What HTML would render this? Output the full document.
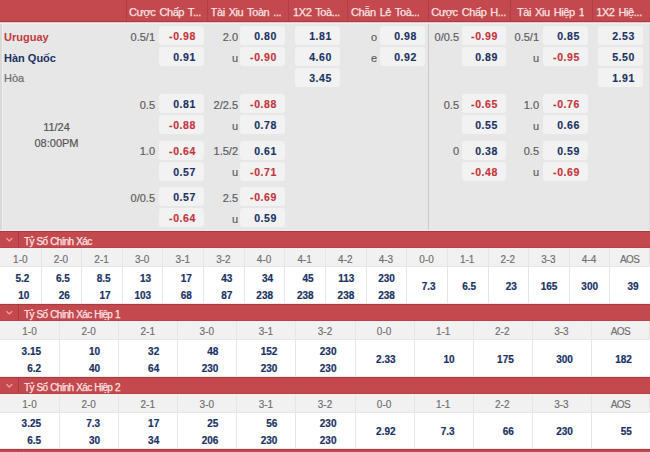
<!DOCTYPE html><html><head><meta charset="utf-8"><title>Odds</title><style>
*{margin:0;padding:0;box-sizing:border-box}
html,body{width:650px;height:452px;overflow:hidden;background:#e7e7e7;font-family:"Liberation Sans", Arial, sans-serif}
.ab{position:absolute;white-space:nowrap}
.hd{position:absolute;top:3px;height:18px;line-height:19px;color:#fbe2e2;font-size:11px;letter-spacing:-0.4px;word-spacing:1.3px;overflow:hidden;white-space:nowrap;-webkit-text-stroke:0.25px #fbe2e2}
.vd{position:absolute;width:1px}
.box{position:absolute;height:19px;width:45px;background:#f2f2f2;border-radius:3px;text-align:right;padding-right:8px;padding-top:1px;font-weight:bold;font-size:10.5px;line-height:19px;letter-spacing:0.6px}
.r{color:#c4343b;-webkit-text-stroke:0.15px #c4343b} .b{color:#1a3264;-webkit-text-stroke:0.15px #1a3264}
.lb{position:absolute;height:19px;line-height:19px;padding-top:1.5px;font-size:11px;color:#5e5e5e;-webkit-text-stroke:0.2px #5e5e5e;text-align:right;width:40px}
.bar{position:absolute;left:0;width:650px;height:17px;background:#c4494e}
.bt{position:absolute;color:#fbe3e3;-webkit-text-stroke:0.25px #fbe3e3;font-size:10px;line-height:17px;left:24px;top:0;padding-top:1.5px;letter-spacing:-0.7px;word-spacing:0.8px}
.sh{position:absolute;left:0;width:650px;background:#f1f1f1}
.sb{position:absolute;left:0;width:650px;background:#fff}
.sl{position:absolute;text-align:center;color:#6e6e6e;font-size:10px;-webkit-text-stroke:0.15px #6e6e6e}
.sv{position:absolute;text-align:right;color:#1a3264;font-weight:bold;font-size:10px;-webkit-text-stroke:0.2px #1a3264}

</style></head><body>
<div class="ab" style="left:0;top:0;width:650px;height:21px;background:#c4494e"></div>
<div class="ab" style="left:0;top:21px;width:650px;height:1px;background:#a63c42"></div>
<div class="ab" style="left:0;top:22px;width:650px;height:1px;background:#e9c9cb"></div>
<div class="ab" style="left:0;top:23px;width:650px;height:1px;background:#f9e8e9"></div>
<div class="hd" style="left:129.0px">Cược Chấp T...</div>
<div class="hd" style="left:210.6px">Tài Xiu Toàn ...</div>
<div class="hd" style="left:293.1px">1X2 Toà...</div>
<div class="hd" style="left:351.0px">Chẵn Lẻ Toà...</div>
<div class="hd" style="left:431.3px">Cược Chấp H...</div>
<div class="hd" style="left:517.0px">Tài Xiu Hiệp 1</div>
<div class="hd" style="left:596.2px">1X2 Hiệ...</div>
<div class="vd" style="left:126px;top:0;height:21px;background:#b03e45"></div>
<div class="vd" style="left:207px;top:0;height:21px;background:#b03e45"></div>
<div class="vd" style="left:288px;top:0;height:21px;background:#b03e45"></div>
<div class="vd" style="left:347px;top:0;height:21px;background:#b03e45"></div>
<div class="vd" style="left:428px;top:0;height:21px;background:#b03e45"></div>
<div class="vd" style="left:510px;top:0;height:21px;background:#b03e45"></div>
<div class="vd" style="left:592px;top:0;height:21px;background:#b03e45"></div>
<div class="ab" style="left:0;top:24px;width:2px;height:206px;background:#d9d9d9"></div>
<div class="vd" style="left:2px;top:24px;height:206px;background:#efefef"></div>
<div class="vd" style="left:649px;top:24px;height:206px;background:#d9d9d9"></div>
<div class="vd" style="left:428px;top:24px;height:207px;background:#cacaca"></div>
<div class="lb" style="left:115px;top:26px">0.5/1</div>
<div class="box r" style="left:159px;top:26px;width:45px">-0.98</div>
<div class="lb" style="left:198px;top:26px">2.0</div>
<div class="box b" style="left:240px;top:26px;width:45px">0.80</div>
<div class="box b" style="left:295px;top:26px;width:45px">1.81</div>
<div class="lb" style="left:337px;top:26px">o</div>
<div class="box b" style="left:380px;top:26px;width:45px">0.98</div>
<div class="lb" style="left:419px;top:26px">0/0.5</div>
<div class="box r" style="left:462px;top:26px;width:44px">-0.99</div>
<div class="lb" style="left:499px;top:26px">0.5/1</div>
<div class="box b" style="left:543px;top:26px;width:45px">0.85</div>
<div class="box b" style="left:598px;top:26px;width:45px">2.53</div>
<div class="box b" style="left:159px;top:47px;width:45px">0.91</div>
<div class="lb" style="left:198px;top:47px">u</div>
<div class="box r" style="left:240px;top:47px;width:45px">-0.90</div>
<div class="box b" style="left:295px;top:47px;width:45px">4.60</div>
<div class="lb" style="left:337px;top:47px">e</div>
<div class="box b" style="left:380px;top:47px;width:45px">0.92</div>
<div class="box b" style="left:462px;top:47px;width:44px">0.89</div>
<div class="lb" style="left:499px;top:47px">u</div>
<div class="box r" style="left:543px;top:47px;width:45px">-0.95</div>
<div class="box b" style="left:598px;top:47px;width:45px">5.50</div>
<div class="box b" style="left:295px;top:68px;width:45px">3.45</div>
<div class="box b" style="left:598px;top:68px;width:45px">1.91</div>
<div class="lb" style="left:115px;top:94px">0.5</div>
<div class="box b" style="left:159px;top:94px;width:45px">0.81</div>
<div class="lb" style="left:198px;top:94px">2/2.5</div>
<div class="box r" style="left:240px;top:94px;width:45px">-0.88</div>
<div class="lb" style="left:419px;top:94px">0.5</div>
<div class="box r" style="left:462px;top:94px;width:44px">-0.65</div>
<div class="lb" style="left:499px;top:94px">1.0</div>
<div class="box r" style="left:543px;top:94px;width:45px">-0.76</div>
<div class="box r" style="left:159px;top:115px;width:45px">-0.88</div>
<div class="lb" style="left:198px;top:115px">u</div>
<div class="box b" style="left:240px;top:115px;width:45px">0.78</div>
<div class="box b" style="left:462px;top:115px;width:44px">0.55</div>
<div class="lb" style="left:499px;top:115px">u</div>
<div class="box b" style="left:543px;top:115px;width:45px">0.66</div>
<div class="lb" style="left:115px;top:140.5px">1.0</div>
<div class="box r" style="left:159px;top:140.5px;width:45px">-0.64</div>
<div class="lb" style="left:198px;top:140.5px">1.5/2</div>
<div class="box b" style="left:240px;top:140.5px;width:45px">0.61</div>
<div class="lb" style="left:419px;top:140.5px">0</div>
<div class="box b" style="left:462px;top:140.5px;width:44px">0.38</div>
<div class="lb" style="left:499px;top:140.5px">0.5</div>
<div class="box b" style="left:543px;top:140.5px;width:45px">0.59</div>
<div class="box b" style="left:159px;top:161.5px;width:45px">0.57</div>
<div class="lb" style="left:198px;top:161.5px">u</div>
<div class="box r" style="left:240px;top:161.5px;width:45px">-0.71</div>
<div class="box r" style="left:462px;top:161.5px;width:44px">-0.48</div>
<div class="lb" style="left:499px;top:161.5px">u</div>
<div class="box r" style="left:543px;top:161.5px;width:45px">-0.69</div>
<div class="lb" style="left:115px;top:187px">0/0.5</div>
<div class="box b" style="left:159px;top:187px;width:45px">0.57</div>
<div class="lb" style="left:198px;top:187px">2.5</div>
<div class="box r" style="left:240px;top:187px;width:45px">-0.69</div>
<div class="box r" style="left:159px;top:208px;width:45px">-0.64</div>
<div class="lb" style="left:198px;top:208px">u</div>
<div class="box b" style="left:240px;top:208px;width:45px">0.59</div>
<div class="ab" style="left:4px;top:28px;line-height:19px;font-size:11px;font-weight:bold;color:#c23840">Uruguay</div>
<div class="ab" style="left:4px;top:48.5px;line-height:19px;font-size:11px;font-weight:bold;color:#1a3264">Hàn Quốc</div>
<div class="ab" style="left:4px;top:69px;line-height:19px;font-size:11px;color:#6a6a6a;-webkit-text-stroke:0.2px #6a6a6a">Hòa</div>
<div class="ab" style="left:0;width:113px;top:119px;line-height:16px;font-size:11px;color:#555;-webkit-text-stroke:0.2px #555;text-align:center">11/24<br>08:00PM</div>
<div class="ab" style="left:0;top:230px;width:650px;height:1px;background:#fae6e7"></div>
<div class="bar" style="top:231px"></div>
<div class="ab" style="left:0;top:231px;width:650px;height:1px;background:#a63c42"></div>
<div class="vd" style="left:18px;top:231px;height:17px;background:#a63c42"></div>
<svg class="ab" style="left:5px;top:237px" width="9" height="6" viewBox="0 0 9 6"><polyline points="1.4,1.2 4.3,3.9 7.2,1.2" fill="none" stroke="#f4a3a8" stroke-width="1.3"/></svg>
<div class="ab" style="left:0;top:247px;width:650px;height:1px;background:#b3444a"></div>
<div class="bt" style="top:231px">Tỷ Số Chính Xác</div>
<div class="sh" style="top:248px;height:18px"></div>
<div class="ab" style="left:0;top:248px;width:650px;height:1px;background:#f8ecec"></div>
<div class="vd" style="left:649px;top:248px;height:55px;background:#e2e2e2"></div>
<div class="ab" style="left:0;top:266px;width:650px;height:1px;background:#e6e6e6"></div>
<div class="sb" style="top:267px;height:36px"></div>
<div class="sl" style="left:0.00px;width:40.62px;top:250.5px;line-height:18px">1-0</div>
<div class="sl" style="left:40.62px;width:40.62px;top:250.5px;line-height:18px">2-0</div>
<div class="vd" style="left:41px;top:248px;height:55px;background:#e6e6e6"></div>
<div class="sl" style="left:81.25px;width:40.62px;top:250.5px;line-height:18px">2-1</div>
<div class="vd" style="left:81px;top:248px;height:55px;background:#e6e6e6"></div>
<div class="sl" style="left:121.88px;width:40.62px;top:250.5px;line-height:18px">3-0</div>
<div class="vd" style="left:122px;top:248px;height:55px;background:#e6e6e6"></div>
<div class="sl" style="left:162.50px;width:40.62px;top:250.5px;line-height:18px">3-1</div>
<div class="vd" style="left:162px;top:248px;height:55px;background:#e6e6e6"></div>
<div class="sl" style="left:203.12px;width:40.62px;top:250.5px;line-height:18px">3-2</div>
<div class="vd" style="left:203px;top:248px;height:55px;background:#e6e6e6"></div>
<div class="sl" style="left:243.75px;width:40.62px;top:250.5px;line-height:18px">4-0</div>
<div class="vd" style="left:244px;top:248px;height:55px;background:#e6e6e6"></div>
<div class="sl" style="left:284.38px;width:40.62px;top:250.5px;line-height:18px">4-1</div>
<div class="vd" style="left:284px;top:248px;height:55px;background:#e6e6e6"></div>
<div class="sl" style="left:325.00px;width:40.62px;top:250.5px;line-height:18px">4-2</div>
<div class="vd" style="left:325px;top:248px;height:55px;background:#e6e6e6"></div>
<div class="sl" style="left:365.62px;width:40.62px;top:250.5px;line-height:18px">4-3</div>
<div class="vd" style="left:366px;top:248px;height:55px;background:#e6e6e6"></div>
<div class="sl" style="left:406.25px;width:40.62px;top:250.5px;line-height:18px">0-0</div>
<div class="vd" style="left:406px;top:248px;height:55px;background:#e6e6e6"></div>
<div class="sl" style="left:446.88px;width:40.62px;top:250.5px;line-height:18px">1-1</div>
<div class="vd" style="left:447px;top:248px;height:55px;background:#e6e6e6"></div>
<div class="sl" style="left:487.50px;width:40.62px;top:250.5px;line-height:18px">2-2</div>
<div class="vd" style="left:488px;top:248px;height:55px;background:#e6e6e6"></div>
<div class="sl" style="left:528.12px;width:40.62px;top:250.5px;line-height:18px">3-3</div>
<div class="vd" style="left:528px;top:248px;height:55px;background:#e6e6e6"></div>
<div class="sl" style="left:568.75px;width:40.62px;top:250.5px;line-height:18px">4-4</div>
<div class="vd" style="left:569px;top:248px;height:55px;background:#e6e6e6"></div>
<div class="sl" style="left:609.38px;width:40.62px;top:250.5px;line-height:18px;letter-spacing:-0.6px">AOS</div>
<div class="vd" style="left:609px;top:248px;height:55px;background:#e6e6e6"></div>
<div class="sv" style="left:-10.69px;width:40px;top:270px;line-height:17px">5.2<br>10</div>
<div class="sv" style="left:29.94px;width:40px;top:270px;line-height:17px">6.5<br>26</div>
<div class="sv" style="left:70.56px;width:40px;top:270px;line-height:17px">8.5<br>17</div>
<div class="sv" style="left:111.19px;width:40px;top:270px;line-height:17px">13<br>103</div>
<div class="sv" style="left:151.81px;width:40px;top:270px;line-height:17px">17<br>68</div>
<div class="sv" style="left:192.44px;width:40px;top:270px;line-height:17px">43<br>87</div>
<div class="sv" style="left:233.06px;width:40px;top:270px;line-height:17px">34<br>238</div>
<div class="sv" style="left:273.69px;width:40px;top:270px;line-height:17px">45<br>238</div>
<div class="sv" style="left:314.31px;width:40px;top:270px;line-height:17px">113<br>238</div>
<div class="sv" style="left:354.94px;width:40px;top:270px;line-height:17px">230<br>238</div>
<div class="sv" style="left:395.56px;width:40px;top:278px;line-height:17px">7.3</div>
<div class="sv" style="left:436.19px;width:40px;top:278px;line-height:17px">6.5</div>
<div class="sv" style="left:476.81px;width:40px;top:278px;line-height:17px">23</div>
<div class="sv" style="left:517.44px;width:40px;top:278px;line-height:17px">165</div>
<div class="sv" style="left:558.06px;width:40px;top:278px;line-height:17px">300</div>
<div class="sv" style="left:598.69px;width:40px;top:278px;line-height:17px">39</div>
<div class="ab" style="left:0;top:303px;width:650px;height:1px;background:#fae6e7"></div>
<div class="bar" style="top:304px"></div>
<div class="ab" style="left:0;top:304px;width:650px;height:1px;background:#a63c42"></div>
<div class="vd" style="left:18px;top:304px;height:17px;background:#a63c42"></div>
<svg class="ab" style="left:5px;top:310px" width="9" height="6" viewBox="0 0 9 6"><polyline points="1.4,1.2 4.3,3.9 7.2,1.2" fill="none" stroke="#f4a3a8" stroke-width="1.3"/></svg>
<div class="ab" style="left:0;top:320px;width:650px;height:1px;background:#b3444a"></div>
<div class="bt" style="top:304px">Tỷ Số Chính Xác Hiệp 1</div>
<div class="sh" style="top:321px;height:18px"></div>
<div class="ab" style="left:0;top:321px;width:650px;height:1px;background:#f8ecec"></div>
<div class="vd" style="left:649px;top:321px;height:55px;background:#e2e2e2"></div>
<div class="ab" style="left:0;top:339px;width:650px;height:1px;background:#e6e6e6"></div>
<div class="sb" style="top:340px;height:36px"></div>
<div class="sl" style="left:0.00px;width:59.09px;top:323.0px;line-height:18px">1-0</div>
<div class="sl" style="left:59.09px;width:59.09px;top:323.0px;line-height:18px">2-0</div>
<div class="vd" style="left:59px;top:321px;height:55px;background:#e6e6e6"></div>
<div class="sl" style="left:118.18px;width:59.09px;top:323.0px;line-height:18px">2-1</div>
<div class="vd" style="left:118px;top:321px;height:55px;background:#e6e6e6"></div>
<div class="sl" style="left:177.27px;width:59.09px;top:323.0px;line-height:18px">3-0</div>
<div class="vd" style="left:177px;top:321px;height:55px;background:#e6e6e6"></div>
<div class="sl" style="left:236.36px;width:59.09px;top:323.0px;line-height:18px">3-1</div>
<div class="vd" style="left:236px;top:321px;height:55px;background:#e6e6e6"></div>
<div class="sl" style="left:295.45px;width:59.09px;top:323.0px;line-height:18px">3-2</div>
<div class="vd" style="left:295px;top:321px;height:55px;background:#e6e6e6"></div>
<div class="sl" style="left:354.55px;width:59.09px;top:323.0px;line-height:18px">0-0</div>
<div class="vd" style="left:355px;top:321px;height:55px;background:#e6e6e6"></div>
<div class="sl" style="left:413.64px;width:59.09px;top:323.0px;line-height:18px">1-1</div>
<div class="vd" style="left:414px;top:321px;height:55px;background:#e6e6e6"></div>
<div class="sl" style="left:472.73px;width:59.09px;top:323.0px;line-height:18px">2-2</div>
<div class="vd" style="left:473px;top:321px;height:55px;background:#e6e6e6"></div>
<div class="sl" style="left:531.82px;width:59.09px;top:323.0px;line-height:18px">3-3</div>
<div class="vd" style="left:532px;top:321px;height:55px;background:#e6e6e6"></div>
<div class="sl" style="left:590.91px;width:59.09px;top:323.0px;line-height:18px;letter-spacing:-0.6px">AOS</div>
<div class="vd" style="left:591px;top:321px;height:55px;background:#e6e6e6"></div>
<div class="sv" style="left:1.05px;width:40px;top:342.5px;line-height:17px">3.15<br>6.2</div>
<div class="sv" style="left:60.14px;width:40px;top:342.5px;line-height:17px">10<br>40</div>
<div class="sv" style="left:119.23px;width:40px;top:342.5px;line-height:17px">32<br>64</div>
<div class="sv" style="left:178.32px;width:40px;top:342.5px;line-height:17px">48<br>230</div>
<div class="sv" style="left:237.41px;width:40px;top:342.5px;line-height:17px">152<br>230</div>
<div class="sv" style="left:296.50px;width:40px;top:342.5px;line-height:17px">230<br>230</div>
<div class="sv" style="left:355.59px;width:40px;top:350.5px;line-height:17px">2.33</div>
<div class="sv" style="left:414.68px;width:40px;top:350.5px;line-height:17px">10</div>
<div class="sv" style="left:473.77px;width:40px;top:350.5px;line-height:17px">175</div>
<div class="sv" style="left:532.86px;width:40px;top:350.5px;line-height:17px">300</div>
<div class="sv" style="left:591.95px;width:40px;top:350.5px;line-height:17px">182</div>
<div class="ab" style="left:0;top:376px;width:650px;height:1px;background:#fae6e7"></div>
<div class="bar" style="top:377px"></div>
<div class="ab" style="left:0;top:377px;width:650px;height:1px;background:#a63c42"></div>
<div class="vd" style="left:18px;top:377px;height:17px;background:#a63c42"></div>
<svg class="ab" style="left:5px;top:383px" width="9" height="6" viewBox="0 0 9 6"><polyline points="1.4,1.2 4.3,3.9 7.2,1.2" fill="none" stroke="#f4a3a8" stroke-width="1.3"/></svg>
<div class="ab" style="left:0;top:393px;width:650px;height:1px;background:#b3444a"></div>
<div class="bt" style="top:377px">Tỷ Số Chính Xác Hiệp 2</div>
<div class="sh" style="top:394px;height:18px"></div>
<div class="ab" style="left:0;top:394px;width:650px;height:1px;background:#f8ecec"></div>
<div class="vd" style="left:649px;top:394px;height:55px;background:#e2e2e2"></div>
<div class="ab" style="left:0;top:412px;width:650px;height:1px;background:#e6e6e6"></div>
<div class="sb" style="top:413px;height:36px"></div>
<div class="sl" style="left:0.00px;width:59.09px;top:395.5px;line-height:18px">1-0</div>
<div class="sl" style="left:59.09px;width:59.09px;top:395.5px;line-height:18px">2-0</div>
<div class="vd" style="left:59px;top:394px;height:55px;background:#e6e6e6"></div>
<div class="sl" style="left:118.18px;width:59.09px;top:395.5px;line-height:18px">2-1</div>
<div class="vd" style="left:118px;top:394px;height:55px;background:#e6e6e6"></div>
<div class="sl" style="left:177.27px;width:59.09px;top:395.5px;line-height:18px">3-0</div>
<div class="vd" style="left:177px;top:394px;height:55px;background:#e6e6e6"></div>
<div class="sl" style="left:236.36px;width:59.09px;top:395.5px;line-height:18px">3-1</div>
<div class="vd" style="left:236px;top:394px;height:55px;background:#e6e6e6"></div>
<div class="sl" style="left:295.45px;width:59.09px;top:395.5px;line-height:18px">3-2</div>
<div class="vd" style="left:295px;top:394px;height:55px;background:#e6e6e6"></div>
<div class="sl" style="left:354.55px;width:59.09px;top:395.5px;line-height:18px">0-0</div>
<div class="vd" style="left:355px;top:394px;height:55px;background:#e6e6e6"></div>
<div class="sl" style="left:413.64px;width:59.09px;top:395.5px;line-height:18px">1-1</div>
<div class="vd" style="left:414px;top:394px;height:55px;background:#e6e6e6"></div>
<div class="sl" style="left:472.73px;width:59.09px;top:395.5px;line-height:18px">2-2</div>
<div class="vd" style="left:473px;top:394px;height:55px;background:#e6e6e6"></div>
<div class="sl" style="left:531.82px;width:59.09px;top:395.5px;line-height:18px">3-3</div>
<div class="vd" style="left:532px;top:394px;height:55px;background:#e6e6e6"></div>
<div class="sl" style="left:590.91px;width:59.09px;top:395.5px;line-height:18px;letter-spacing:-0.6px">AOS</div>
<div class="vd" style="left:591px;top:394px;height:55px;background:#e6e6e6"></div>
<div class="sv" style="left:1.05px;width:40px;top:415px;line-height:17px">3.25<br>6.5</div>
<div class="sv" style="left:60.14px;width:40px;top:415px;line-height:17px">7.3<br>30</div>
<div class="sv" style="left:119.23px;width:40px;top:415px;line-height:17px">17<br>34</div>
<div class="sv" style="left:178.32px;width:40px;top:415px;line-height:17px">25<br>206</div>
<div class="sv" style="left:237.41px;width:40px;top:415px;line-height:17px">56<br>230</div>
<div class="sv" style="left:296.50px;width:40px;top:415px;line-height:17px">230<br>230</div>
<div class="sv" style="left:355.59px;width:40px;top:423px;line-height:17px">2.92</div>
<div class="sv" style="left:414.68px;width:40px;top:423px;line-height:17px">7.3</div>
<div class="sv" style="left:473.77px;width:40px;top:423px;line-height:17px">66</div>
<div class="sv" style="left:532.86px;width:40px;top:423px;line-height:17px">230</div>
<div class="sv" style="left:591.95px;width:40px;top:423px;line-height:17px">55</div>
<div class="ab" style="left:0;top:448px;width:650px;height:1px;background:#fae6e7"></div>
<div class="bar" style="top:449px"></div>
<div class="ab" style="left:0;top:449px;width:650px;height:1px;background:#a63c42"></div>
<div class="vd" style="left:18px;top:449px;height:3px;background:#a63c42"></div>
</body></html>
